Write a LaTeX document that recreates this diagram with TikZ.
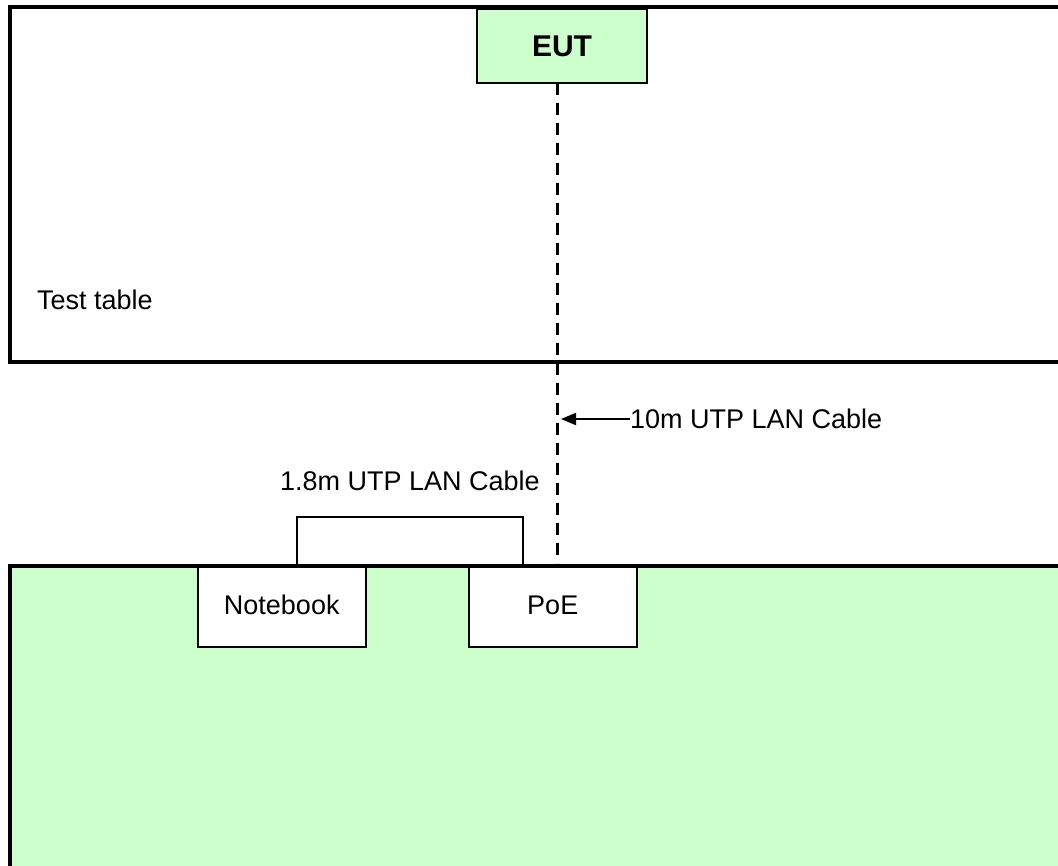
\documentclass[tikz,border=0pt]{standalone}
\usepackage{fontspec}
\setmainfont{Liberation Sans}
\usetikzlibrary{positioning, arrows.meta}
\definecolor{tablegreen}{HTML}{CCFFCC}
\tikzset{
    unit/.style={draw, line width=1.5pt, minimum width=168pt, minimum height=80pt, inner sep=0pt},
    lbl/.style={inner sep=0pt, font=\fontsize{27}{31}\selectfont}
}

\begin{document}
\begin{tikzpicture}[x=1pt, y=-1pt]
    \useasboundingbox (0,0) rectangle (1058,866);
    % test table
    \draw[line width=4pt] (1062,7) -- (10,7) -- (10,362) -- (1062,362);
    \node[lbl, anchor=west] (tt) at (37,300) {Test table};
    % ground plane
    \fill[tablegreen] (10,566) rectangle (1062,870);
    \draw[line width=3.5pt] (1062,566) -- (10,566) -- (10,870);
    % units
    \node[unit, fill=tablegreen, minimum width=170pt, minimum height=74pt] (eut) at (562,46)
        {\fontsize{30}{34}\selectfont\bfseries EUT};
    \node[unit, fill=white, anchor=north west] (nb) at (197,566) {};
    \node[lbl, text height=0.72em, text depth=0pt] at ([yshift=-4pt]nb.center) {Notebook};
    \node[unit, fill=white, anchor=north west] (poe) at (468,566) {};
    \node[lbl, text height=0.72em, text depth=0pt] at ([yshift=-4pt]poe.center) {PoE};
    % cables
    \coordinate (c1) at (557,83);
    \coordinate (c2) at (557,563);
    \coordinate (tip) at (561,419);
    \draw[line width=3pt, dash pattern=on 12pt off 8pt] (c1) -- (c2);
    \node[lbl, anchor=west] (long) at (630,419) {10m UTP LAN Cable};
    \draw[-{Triangle[length=15pt, width=12pt]}, line width=2pt] (long.west) -- (tip);
    \draw[line width=1.5pt] (297,566) -- (297,517) -- (523,517) -- (523,566);
    \node[lbl] (short) at (410,481) {1.8m UTP LAN Cable};
\end{tikzpicture}
\end{document}
